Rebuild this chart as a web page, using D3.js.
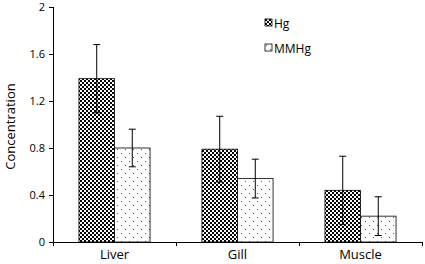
<!DOCTYPE html>
<html lang="en">
<head>
  <meta charset="UTF-8">
  <title>Concentration by tissue</title>
  <script src="https://d3js.org/d3.v7.min.js"></script>
  <style>
    body { margin: 0; background: #fff; }
    svg { display: block; }
    .axis path, .axis line { stroke: #000; shape-rendering: crispEdges; }
    .axis text { font-family: "Open Sans", sans-serif; fill: #000; }
  </style>
</head>
<body>
<script>
  const tissues = ["Liver", "Gill", "Muscle"];
  const seriesNames = ["Hg", "MMHg"];
  const hgValues = [1.39, 0.79, 0.44];
  const hgErrors = [0.29, 0.28, 0.29];
  const mmhgValues = [0.80, 0.54, 0.22];
  const mmhgErrors = [0.16, 0.165, 0.165];
  const yTicks = [0, 0.4, 0.8, 1.2, 1.6, 2];

  const width = 425, height = 264;
  const margin = { top: 7, right: 3, bottom: 22, left: 53 };

  const rows = [];
  tissues.forEach((t, i) => {
    rows.push({ tissue: t, series: "Hg", value: hgValues[i], err: hgErrors[i] });
    rows.push({ tissue: t, series: "MMHg", value: mmhgValues[i], err: mmhgErrors[i] });
  });

  const svg = d3.select("body").append("svg")
    .attr("width", width)
    .attr("height", height);

  const defs = svg.append("defs");

  // checkerboard for Hg
  const chk = defs.append("pattern")
    .attr("id", "checker")
    .attr("width", 4).attr("height", 4)
    .attr("patternUnits", "userSpaceOnUse");
  chk.append("rect").attr("width", 4).attr("height", 4).attr("fill", "#fff");
  chk.append("rect").attr("width", 2).attr("height", 2).attr("fill", "#000");
  chk.append("rect").attr("x", 2).attr("y", 2).attr("width", 2).attr("height", 2).attr("fill", "#000");

  // sparse dots for MMHg
  const dots = defs.append("pattern")
    .attr("id", "dots")
    .attr("width", 8).attr("height", 8)
    .attr("patternUnits", "userSpaceOnUse");
  dots.append("rect").attr("width", 8).attr("height", 8).attr("fill", "#fff");
  dots.append("rect").attr("x", 1).attr("y", 1).attr("width", 1).attr("height", 1).attr("fill", "#555");
  dots.append("rect").attr("x", 5).attr("y", 5).attr("width", 1).attr("height", 1).attr("fill", "#555");

  const fills = { Hg: "url(#checker)", MMHg: "url(#dots)" };

  const x0 = d3.scaleBand()
    .domain(tissues)
    .range([margin.left, width - margin.right])
    .paddingInner(0)
    .paddingOuter(0);

  const x1 = d3.scaleBand()
    .domain(seriesNames)
    .range([0, x0.bandwidth()])
    .paddingOuter(0.73)
    .paddingInner(0);

  const y = d3.scaleLinear()
    .domain([0, 2])
    .range([height - margin.bottom, margin.top]);

  // y axis
  svg.append("g")
    .attr("class", "axis")
    .attr("transform", `translate(${margin.left},0)`)
    .call(d3.axisLeft(y).tickValues(yTicks).tickFormat(d3.format("")).tickSize(4).tickPadding(4))
    .call(g => g.selectAll("text").attr("font-size", 11));

  // bars
  svg.append("g").selectAll("rect")
    .data(rows)
    .join("rect")
    .attr("x", d => x0(d.tissue) + x1(d.series))
    .attr("y", d => y(d.value))
    .attr("width", x1.bandwidth())
    .attr("height", d => y(0) - y(d.value))
    .attr("fill", d => fills[d.series])
    .attr("stroke", "#000")
    .attr("stroke-width", 0.8);

  // error bars
  const eb = svg.append("g").selectAll("g")
    .data(rows)
    .join("g")
    .attr("transform", d => `translate(${x0(d.tissue) + x1(d.series) + x1.bandwidth() / 2},0)`);
  eb.append("line")
    .attr("y1", d => y(d.value + d.err))
    .attr("y2", d => y(d.value - d.err))
    .attr("stroke", "#000").attr("stroke-width", 1);
  eb.append("line")
    .attr("x1", -3.5).attr("x2", 3.5)
    .attr("y1", d => y(d.value + d.err)).attr("y2", d => y(d.value + d.err))
    .attr("stroke", "#000").attr("stroke-width", 1);
  eb.append("line")
    .attr("x1", -3.5).attr("x2", 3.5)
    .attr("y1", d => y(d.value - d.err)).attr("y2", d => y(d.value - d.err))
    .attr("stroke", "#000").attr("stroke-width", 1);

  // x axis with ticks at band boundaries
  const xAxis = svg.append("g")
    .attr("class", "axis")
    .attr("transform", `translate(0,${y(0)})`);
  xAxis.append("line")
    .attr("x1", margin.left).attr("x2", width - margin.right)
    .attr("stroke", "#000");
  const bounds = tissues.map(t => x0(t)).concat([x0(tissues[tissues.length - 1]) + x0.bandwidth()]);
  xAxis.selectAll(".bt")
    .data(bounds)
    .join("line")
    .attr("x1", d => Math.round(d) + 0.5).attr("x2", d => Math.round(d) + 0.5)
    .attr("y1", 0).attr("y2", 4)
    .attr("stroke", "#000");
  xAxis.selectAll("text")
    .data(tissues)
    .join("text")
    .attr("x", d => x0(d) + x0.bandwidth() / 2)
    .attr("y", 17)
    .attr("text-anchor", "middle")
    .attr("font-size", 13)
    .text(d => d);

  // y title
  svg.append("text")
    .attr("transform", `translate(15,${(y(0) + y(2)) / 2 + 2}) rotate(-90)`)
    .attr("text-anchor", "middle")
    .attr("font-family", "'Open Sans', sans-serif")
    .attr("font-size", 13)
    .text("Concentration");

  // legend
  const legend = svg.append("g").attr("transform", "translate(265,19)");
  seriesNames.forEach((s, i) => {
    const g = legend.append("g").attr("transform", `translate(0,${i * 25})`);
    g.append("rect")
      .attr("x", 0).attr("y", 0).attr("width", 7).attr("height", 7)
      .attr("fill", fills[s]).attr("stroke", "#000").attr("stroke-width", 0.8);
    g.append("text")
      .attr("x", 9).attr("y", 9)
      .attr("font-family", "'Open Sans', sans-serif")
      .attr("font-size", 12)
      .text(s);
  });
</script>
</body>
</html>
